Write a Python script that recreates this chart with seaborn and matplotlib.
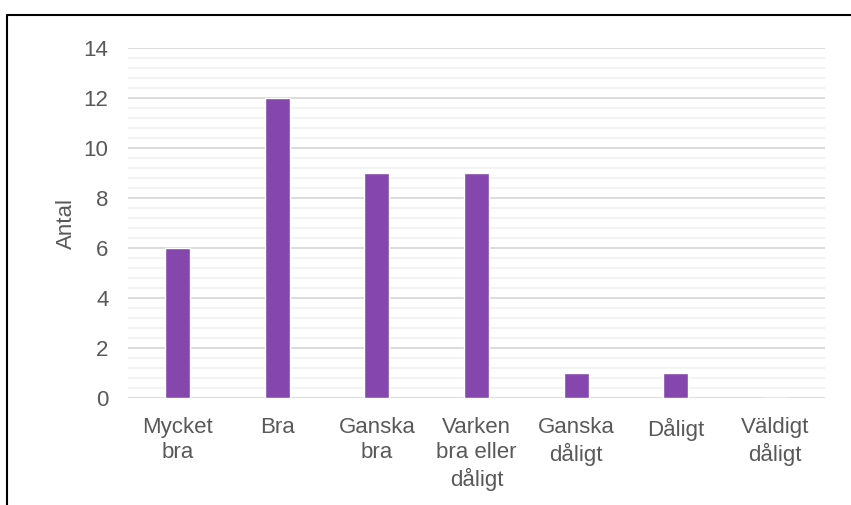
import seaborn as sns
import pandas as pd
from matplotlib import pyplot as plt
from matplotlib.ticker import MultipleLocator
from matplotlib.lines import Line2D

# data
categories = ['Mycket\nbra', 'Bra', 'Ganska\nbra', 'Varken\nbra eller\ndåligt',
              'Ganska\ndåligt', 'Dåligt', 'Väldigt\ndåligt']
counts = [6, 12, 9, 9, 1, 1, 0]
y_label = 'Antal'

sns.set_style('white')
plt.rcParams['font.family'] = ['Liberation Sans', 'DejaVu Sans']

text_col = '#595959'
bar_col = '#8547AD'

df = pd.DataFrame({'kategori': categories, 'antal': counts})

fig = plt.figure(figsize=(8.51, 5.05), dpi=100)
ax = fig.add_axes([128 / 851, 1 - 398 / 505, 697 / 851, 350 / 505])

sns.barplot(data=df, x='kategori', y='antal', color=bar_col,
            width=0.25, saturation=1, ax=ax, zorder=3)

ax.set_ylim(0, 14)
ax.set_xlim(-0.5, len(categories) - 0.5)
ax.yaxis.set_major_locator(MultipleLocator(2))
ax.yaxis.set_minor_locator(MultipleLocator(0.4))
ax.grid(axis='y', which='major', color='#D9D9D9', linewidth=1.3, zorder=0)
ax.grid(axis='y', which='minor', color='#F2F2F2', linewidth=1.3, zorder=0)
ax.set_axisbelow(True)
for s in ax.spines.values():
    s.set_visible(False)

ax.tick_params(axis='both', which='both', length=0, labelsize=16,
               labelcolor=text_col)
ax.tick_params(axis='y', pad=14)
ax.tick_params(axis='x', pad=14)
for lbl in ax.get_xticklabels():
    lbl.set_linespacing(1.25)
    lbl.set_verticalalignment('top')

ax.set_xlabel('')
ax.set_ylabel(y_label, fontsize=16, color=text_col, labelpad=5)

# frame of the screenshot (top and left edge only)
fig.add_artist(Line2D([7 / 851, 1], [1 - 15 / 505, 1 - 15 / 505],
                      transform=fig.transFigure, color='black', lw=1.5))
fig.add_artist(Line2D([7 / 851, 7 / 851], [0, 1 - 15 / 505],
                      transform=fig.transFigure, color='black', lw=1.5))

fig.savefig('out.png', dpi=100)
